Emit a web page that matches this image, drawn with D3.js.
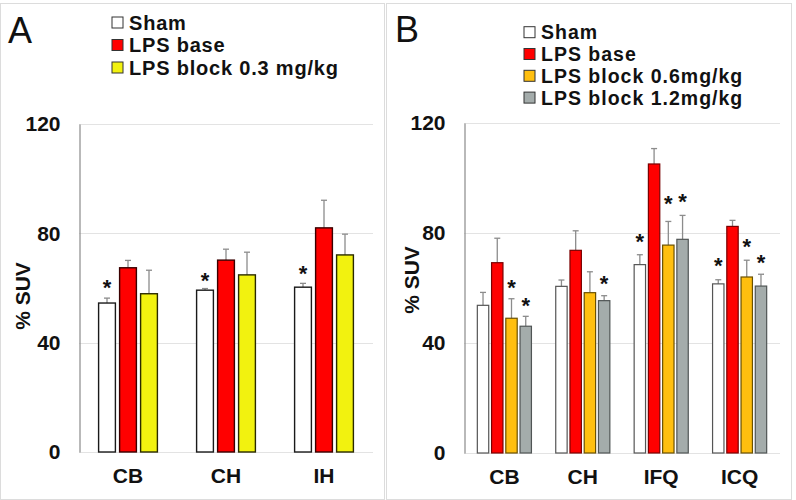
<!DOCTYPE html>
<html><head><meta charset="utf-8">
<script src="https://cdn.jsdelivr.net/npm/d3@7"></script>
<style>
html,body{margin:0;padding:0;background:#fff;}
text{font-family:"Liberation Sans",Arial,sans-serif;}
</style>
</head><body>
<svg id="chart" width="796" height="500"></svg>
<script>
// ---------- data ----------
const yTicks = [0, 40, 80, 120];
const yLabel = "% SUV";

const catsA = ["CB", "CH", "IH"];
const seriesA = ["Sham", "LPS base", "LPS block 0.3 mg/kg"];
const colorsA = ["#ffffff", "#ff0000", "#f2f20f"];
const shamA   = [54.5, 59.2, 60.3];
const baseA   = [67.4, 70.2, 82.0];
const block03 = [57.9, 64.8, 72.1];
const shamAErr   = [1.8, 0.6, 1.4];
const baseAErr   = [2.7, 4.0, 10.1];
const block03Err = [8.6, 8.3, 7.6];
// star centre heights (null = no star)
const shamAStar   = [61.8, 64.4, 67.0];
const baseAStar   = [null, null, null];
const block03Star = [null, null, null];

const catsB = ["CB", "CH", "IFQ", "ICQ"];
const seriesB = ["Sham", "LPS base", "LPS block 0.6mg/kg", "LPS block 1.2mg/kg"];
const colorsB = ["#ffffff", "#ff0000", "#ffbf0f", "#a4acab"];
const shamB   = [53.7, 60.6, 68.5, 61.5];
const baseB   = [69.2, 73.7, 105.1, 82.4];
const block06 = [49.0, 58.3, 75.6, 64.0];
const block12 = [46.1, 55.4, 77.7, 60.7];
const shamBErr   = [4.7, 2.3, 3.6, 1.5];
const baseBErr   = [8.9, 7.1, 5.6, 2.2];
const block06Err = [7.1, 7.6, 8.6, 6.1];
const block12Err = [3.6, 1.8, 8.7, 4.3];
const shamBStar   = [null, null, 78.7, 69.9];
const baseBStar   = [null, null, null, null];
const block06Star = [61.8, null, 92.4, 76.7];
const block12Star = [55.3, 63.3, 93.1, 71.0];

// ---------- drawing ----------
const svg = d3.select("#chart");
const FONT = 21;

function panel(cfg) {
  const g = svg.append("g");
  // frame
  g.append("rect").attr("x", cfg.frame[0] + 0.5).attr("y", cfg.frame[1] + 0.5)
    .attr("width", cfg.frame[2]).attr("height", cfg.frame[3])
    .attr("fill", "none").attr("stroke", "#dcdcdc").attr("stroke-width", 1);

  // panel letter
  g.append("text").attr("x", cfg.letterPos[0]).attr("y", cfg.letterPos[1])
    .attr("font-size", 36).attr("fill", "#111").text(cfg.letter);

  const y = d3.scaleLinear().domain([0, 120]).range([cfg.y0, cfg.y1]);
  const x0 = d3.scaleBand().domain(cfg.cats).range([cfg.xl, cfg.xr])
    .paddingInner(cfg.pIn).paddingOuter(cfg.pOut);
  const x1 = d3.scaleBand().domain(d3.range(cfg.series.length))
    .range([0, x0.bandwidth()]).paddingInner(cfg.pBar);

  // gridlines
  g.append("g").selectAll("line").data(yTicks).join("line")
    .attr("x1", cfg.xl).attr("x2", cfg.xr)
    .attr("y1", d => Math.round(y(d)) + 0.5).attr("y2", d => Math.round(y(d)) + 0.5)
    .attr("stroke", "#e3e3e3").attr("stroke-width", 1);

  // y axis
  const ya = g.append("g").attr("transform", `translate(${cfg.xl + 0.5},0)`)
    .call(d3.axisLeft(y).tickValues(yTicks).tickSize(0).tickSizeOuter(0).tickPadding(19));
  ya.select(".domain").attr("stroke", "#8a8a8a").attr("stroke-width", 1.2);
  ya.selectAll("text").attr("font-size", FONT).attr("font-weight", "bold")
    .attr("fill", "#111").style("font-family", '"Liberation Sans",Arial,sans-serif');

  // x axis
  const xa = g.append("g").attr("transform", `translate(0,${cfg.y0})`)
    .call(d3.axisBottom(x0).tickSize(0).tickPadding(16));
  xa.select(".domain").remove();
  xa.selectAll("text").attr("font-size", FONT).attr("font-weight", "bold")
    .attr("fill", "#111").style("font-family", '"Liberation Sans",Arial,sans-serif');

  // y title
  g.append("text").attr("transform", `translate(${cfg.titlePos[0]},${cfg.titlePos[1]}) rotate(-90)`)
    .attr("text-anchor", "middle").attr("dominant-baseline", "central")
    .attr("font-size", FONT).attr("font-weight", "bold").attr("fill", "#111").text(yLabel);

  // bars
  cfg.series.forEach((s, si) => {
    const rows = cfg.cats.map((c, ci) => ({
      c, v: cfg.values[si][ci], e: cfg.errs[si][ci], st: cfg.stars[si][ci]
    }));
    const sg = g.append("g");
    const bx = d => x0(d.c) + x1(si);
    // error bars
    sg.selectAll("line.err").data(rows).join("line").attr("class", "err")
      .attr("x1", d => bx(d) + x1.bandwidth() / 2).attr("x2", d => bx(d) + x1.bandwidth() / 2)
      .attr("y1", d => y(d.v)).attr("y2", d => y(d.v + d.e))
      .attr("stroke", "#8c8c8c").attr("stroke-width", 1.3);
    sg.selectAll("line.cap").data(rows).join("line").attr("class", "cap")
      .attr("x1", d => bx(d) + x1.bandwidth() / 2 - 3).attr("x2", d => bx(d) + x1.bandwidth() / 2 + 3)
      .attr("y1", d => y(d.v + d.e)).attr("y2", d => y(d.v + d.e))
      .attr("stroke", "#8c8c8c").attr("stroke-width", 1.3);
    sg.selectAll("rect").data(rows).join("rect")
      .attr("x", bx).attr("width", x1.bandwidth())
      .attr("y", d => y(d.v)).attr("height", d => y(0) - y(d.v))
      .attr("fill", cfg.colors[si]).attr("stroke", cfg.strokes[si]).attr("stroke-width", cfg.sw);
    sg.selectAll("text").data(rows.filter(d => d.st != null)).join("text")
      .attr("x", d => bx(d) + x1.bandwidth() / 2).attr("y", d => y(d.st) + 12)
      .attr("text-anchor", "middle").attr("font-size", 22).attr("font-weight", "bold")
      .attr("fill", "#111").text("*");
  });

  // legend
  const lg = g.append("g");
  cfg.series.forEach((s, si) => {
    const cy = cfg.legY[si];
    lg.append("rect").attr("x", cfg.legX).attr("y", cy - 5.5).attr("width", 11).attr("height", 11)
      .attr("fill", cfg.colors[si]).attr("stroke", "#333").attr("stroke-width", 1);
    lg.append("text").attr("x", cfg.legX + 17).attr("y", cy)
      .attr("dominant-baseline", "central").attr("font-size", cfg.legFont).attr("font-weight", "bold")
      .attr("letter-spacing", cfg.legLS)
      .attr("fill", "#111").text(s);
  });
}

panel({
  frame: [0, 3, 384, 496], letter: "A", letterPos: [8, 43],
  cats: catsA, series: seriesA, colors: colorsA,
  strokes: ["#1a1a1a", "#3a0000", "#2a2a00"], sw: 1.4,
  values: [shamA, baseA, block03], errs: [shamAErr, baseAErr, block03Err],
  stars: [shamAStar, baseAStar, block03Star],
  y0: 452, y1: 124, xl: 79, xr: 373, pIn: 0.4, pOut: 0.2, pBar: 0.2,
  titlePos: [22, 296], legX: 112, legY: [22.5, 45, 67.5], legFont: 20, legLS: 0.8
});

panel({
  frame: [386, 3, 405, 496], letter: "B", letterPos: [395, 42],
  cats: catsB, series: seriesB, colors: colorsB,
  strokes: ["#555555", "#7a0000", "#6a5000", "#505555"], sw: 1.2,
  values: [shamB, baseB, block06, block12], errs: [shamBErr, baseBErr, block06Err, block12Err],
  stars: [shamBStar, baseBStar, block06Star, block12Star],
  y0: 453, y1: 123, xl: 464, xr: 780, pIn: 0.31, pOut: 0.17, pBar: 0.2,
  titlePos: [411, 280], legX: 524, legY: [32.2, 54, 75.8, 97.6], legFont: 19.5, legLS: 1.0
});
</script>
</body></html>
